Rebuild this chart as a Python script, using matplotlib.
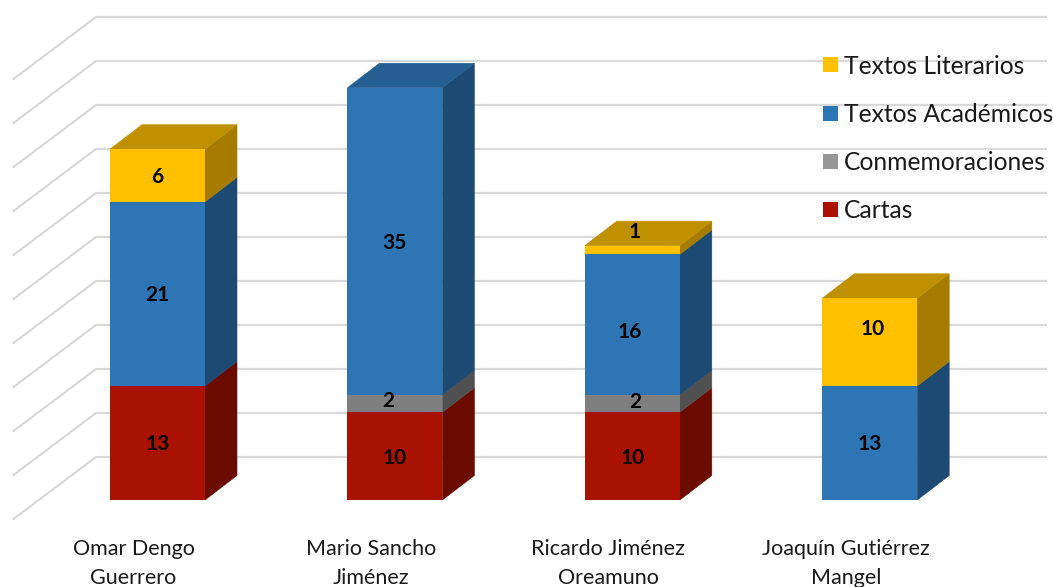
import matplotlib
matplotlib.use("Agg")
import matplotlib.pyplot as plt
from matplotlib.patches import Polygon, Rectangle
import numpy as np

names = ["Omar Dengo\nGuerrero", "Mario Sancho\nJiménez", "Ricardo Jiménez\nOreamuno", "Joaquín Gutiérrez\nMangel"]
cartas = [13, 10, 10, 0]
conmem = [0, 2, 2, 0]
academicos = [21, 35, 16, 13]
literarios = [6, 0, 1, 10]
series_names = ["Cartas", "Conmemoraciones", "Textos Académicos", "Textos Literarios"]
grid_vals = list(range(0, 55, 5))

front = ["#AA1200", "#7F7F7F", "#2E75B6", "#FFC000"]
side = ["#6B0B00", "#505050", "#1D4A73", "#A67C00"]
top = ["#8A0E00", "#666666", "#255E91", "#BF9000"]
legend_cols = ["#AA1200", "#969696", "#2E75B6", "#FFC000"]

# label nudges in pixels (series index, bar index): dx, dy up
nudge = {(1, 1): (-7, 4), (1, 2): (3, 3.5), (2, 2): (-3, -5.5), (3, 2): (2, 20), (3, 3): (3, 15)}

plt.rcParams["font.family"] = ["Lato", "DejaVu Sans"]

fig = plt.figure(figsize=(10.53, 5.87), dpi=100)
ax = fig.add_axes([0, 0, 1, 1])

# data scale: 237.4 px between bars, 8.77 px per unit
px_x = 237.4
px_y = 8.77
x_first = 157.5
y_base = 500
ax.set_xlim(-x_first / px_x, (1053 - x_first) / px_x)
ax.set_ylim(-(587 - y_base) / px_y, y_base / px_y)
ax.axis("off")

width = 95 / px_x
ddx = 32 / px_x
ddy = 24.5 / px_y

# walls
wall_x0 = (96 - x_first) / px_x
wall_x1 = (1046 - x_first) / px_x
wall_dx = 82.5 / px_x
wall_dy = 62 / px_y
grid_off = (y_base - 457) / px_y
for v in grid_vals:
    y = v * 44 / 43.85 + grid_off
    ax.plot([wall_x0 - wall_dx, wall_x0, wall_x1], [y - wall_dy, y, y],
            color="#D9D9D9", lw=1.6, zorder=1, solid_joinstyle="miter")

series = [cartas, conmem, academicos, literarios]
totals = np.array(series).sum(axis=0)
x = np.arange(len(names))
bottom = np.zeros(len(names))
for i, vals in enumerate(series):
    vals = np.array(vals)
    ax.bar(x, vals, width=width, bottom=bottom, color=front[i], zorder=4, linewidth=0)
    for j, v in enumerate(vals):
        if v == 0:
            continue
        l = x[j] - width / 2
        r = x[j] + width / 2
        b = bottom[j]
        t = b + v
        ax.add_patch(Polygon([(r, b), (r + ddx, b + ddy), (r + ddx, t + ddy), (r, t)],
                             closed=True, fc=side[i], ec=side[i], lw=0.4, zorder=3))
        if t == totals[j]:
            ax.add_patch(Polygon([(l, t), (l + ddx, t + ddy), (r + ddx, t + ddy), (r, t)],
                                 closed=True, fc=top[i], ec=top[i], lw=0.4, zorder=3))
        dx, dy = nudge.get((i, j), (0, 0))
        ax.text(x[j] + dx / px_x, b + v / 2 + (dy - 1.5) / px_y, str(v), ha="center", va="center",
                fontsize=15, fontweight="bold", color="black", zorder=5)
    bottom = bottom + vals

for j, n in enumerate(names):
    ax.text(x[j] - 24 / px_x, (y_base - 563.5) / px_y, n, ha="center", va="center",
            fontsize=15.5, color="#1a1a1a", linespacing=1.6)

# legend
leg_y = [209.5, 161.5, 113.5, 64.5]
for i, yy in enumerate(leg_y):
    yv = (y_base - yy) / px_y
    ax.add_patch(Rectangle(((823 - x_first) / px_x, yv - 7.5 / px_y), 15 / px_x, 15 / px_y,
                           fc=legend_cols[i], ec="none", zorder=6))
    ax.text((844 - x_first) / px_x, yv - 1.5 / px_y, series_names[i], ha="left", va="center",
            fontsize=17.7, color="#1a1a1a", zorder=6)

fig.savefig("out.png", dpi=100)
